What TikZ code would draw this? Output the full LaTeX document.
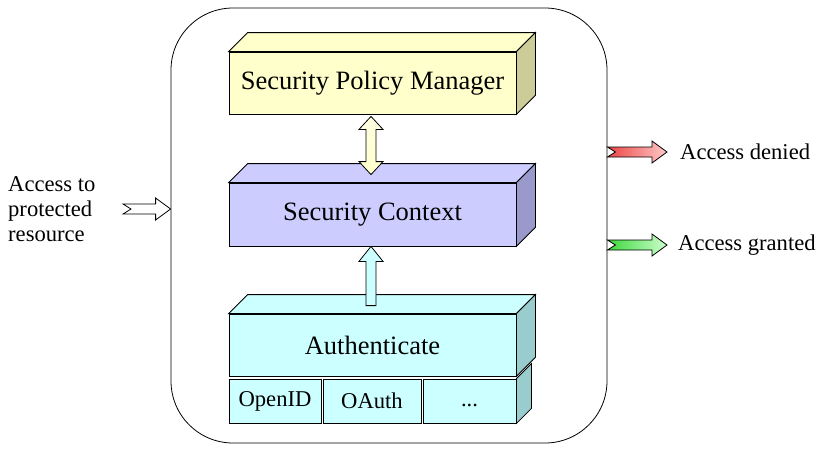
\documentclass[tikz,border=0pt]{standalone}
\usepackage{fontspec}
\setmainfont{Liberation Serif}
\usetikzlibrary{calc}

\definecolor{spmfront}{RGB}{255,255,204}
\definecolor{spmside}{RGB}{204,204,153}
\definecolor{ctxfront}{RGB}{204,204,255}
\definecolor{ctxside}{RGB}{153,153,204}
\definecolor{authfront}{RGB}{204,255,255}
\definecolor{authside}{RGB}{153,204,204}
\definecolor{denyA}{RGB}{235,70,70}
\definecolor{denyB}{RGB}{255,200,200}
\definecolor{grantA}{RGB}{60,215,60}
\definecolor{grantB}{RGB}{205,255,205}

% flat block arrow with a notched tail: style, tail, tip
\newcommand{\hblockarrow}[3]{%
  \draw[#1] ($(#2)+(0,-5)$) -- ($(#3)+(-15,-5)$) -- ++(0,-6) -- (#3) -- ++(-15,11) -- ++(0,-6) -- ($(#2)+(0,5)$) -- ($(#2)+(8,0)$) -- cycle;}

\begin{document}
\begin{tikzpicture}[x=1pt,y=-1pt,line join=miter,
  lbl/.style={font=\fontsize{22.6}{25}\selectfont,inner sep=0pt},
  face/.style={draw,line width=0.8pt},
  box/.style={face,inner sep=0pt,minimum width=287pt,minimum height=62pt,font=\fontsize{26.5}{30}\selectfont},
  subbox/.style={face,fill=authfront,inner sep=0pt,minimum height=44pt,font=\fontsize{22.6}{25}\selectfont},
  frame/.style={draw,line width=0.8pt,rounded corners=62pt,minimum width=436pt,minimum height=435pt}]
\useasboundingbox (0,0) rectangle (824,453);

\node[frame] (frame) at (389,225.5) {};

% security policy manager
\node[box,fill=spmfront] (spm) at (372.5,83) {Security Policy Manager};
\draw[face,fill=spmfront] (spm.north west) -- ++(19,-19) -- ($(spm.north east)+(19,-19)$) -- (spm.north east) -- cycle;
\draw[face,fill=spmside] (spm.north east) -- ++(19,-19) -- ($(spm.south east)+(19,-19)$) -- (spm.south east) -- cycle;

% security context
\node[box,fill=ctxfront,minimum height=63pt] (ctx) at (372.5,214.5) {Security Context};
\draw[face,fill=ctxfront] (ctx.north west) -- ++(19,-19) -- ($(ctx.north east)+(19,-19)$) -- (ctx.north east) -- cycle;
\draw[face,fill=ctxside] (ctx.north east) -- ++(19,-19) -- ($(ctx.south east)+(19,-19)$) -- (ctx.south east) -- cycle;

% authentication methods
\node[subbox,minimum width=92pt] (openid) at (275,401) {OpenID};
\node[subbox,minimum width=98pt] (oauth) at (372,401) {OAuth};
\node[subbox,minimum width=93pt] (more) at (469.5,401) {\vphantom{OpenID}...};
\draw[face,fill=authside] (more.north east) -- ++(15,-15) -- ($(more.south east)+(15,-15)$) -- (more.south east) -- cycle;

% authenticate
\node[box,fill=authfront] (auth) at (372.5,345) {Authenticate};
\draw[face,fill=authfront] (auth.north west) -- ++(19,-19) -- ($(auth.north east)+(19,-19)$) -- (auth.north east) -- cycle;
\draw[face,fill=authside] (auth.north east) -- ++(19,-19) -- ($(auth.south east)+(19,-19)$) -- (auth.south east) -- cycle;

% block arrows between the layers
\coordinate (ya) at ($(spm.south)+(-1.5,2)$);
\coordinate (yb) at ($(ctx.north)+(-1.5,-8)$);
\draw[face,top color=spmfront!60,bottom color=spmfront] (ya) -- ++(12,13) -- ++(-7,0) -- ($(yb)+(5,-13)$) -- ++(7,0) -- (yb) -- ++(-12,-13) -- ++(7,0) -- ($(ya)+(-5,13)$) -- ++(-7,0) -- cycle;
\coordinate (ca) at ($(ctx.south)+(-1.5,0)$);
\coordinate (cb) at ($(auth.north)+(-1.5,-8)$);
\draw[face,fill=authfront] (ca) -- ++(12,15) -- ++(-7,0) -- ($(cb)+(5,0)$) -- ($(cb)+(-5,0)$) -- ($(ca)+(-5,15)$) -- ++(-7,0) -- cycle;

% outside texts
\node[lbl,align=left,anchor=west] (src) at (8,209) {Access to\\protected\\resource};
\node[lbl,anchor=west] (denied) at (680,152) {Access denied};
\node[lbl,anchor=west] (granted) at (678,245) {Access granted};

\coordinate (intail) at (123,209);
\coordinate (intip) at (frame.west |- intail);
\hblockarrow{face,fill=white}{intail}{intip}
\coordinate (dtail) at (frame.east |- denied.west);
\coordinate (dtip) at ($(denied.west)+(-13,0)$);
\hblockarrow{face,left color=denyA,right color=denyB}{dtail}{dtip}
\coordinate (gtail) at (frame.east |- granted.west);
\coordinate (gtip) at ($(granted.west)+(-11,0)$);
\hblockarrow{face,left color=grantA,right color=grantB}{gtail}{gtip}
\end{tikzpicture}
\end{document}
